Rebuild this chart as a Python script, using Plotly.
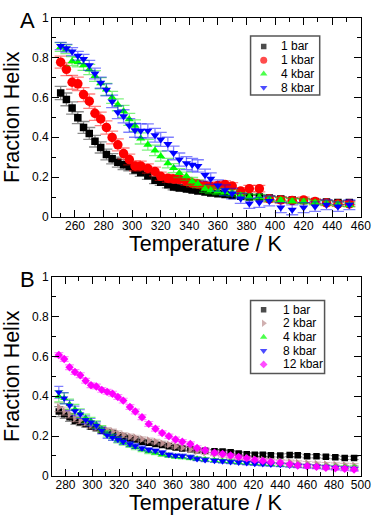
import plotly.graph_objects as go

# ---- data ----
# panel A
TEMP_A = [250, 254, 258, 262, 266, 270, 274, 278, 282, 286, 290, 294, 298, 302, 306, 311, 316, 320, 325, 329,
          333, 338, 342, 346, 351, 355, 360, 365, 370, 376, 382, 389, 396, 404, 412, 420, 428, 436, 444, 452]
A_1BAR = [0.622, 0.590, 0.547, 0.498, 0.449, 0.419, 0.380, 0.349, 0.313, 0.292, 0.275, 0.262, 0.253, 0.236, 0.223, 0.207, 0.184, 0.174, 0.161, 0.150,
          0.145, 0.140, 0.135, 0.130, 0.125, 0.120, 0.116, 0.112, 0.108, 0.104, 0.100, 0.100, 0.095, 0.090, 0.085, 0.082, 0.078, 0.075, 0.072, 0.072]
A_1KBAR = [0.777, 0.741, 0.676, 0.668, 0.614, 0.581, 0.520, 0.492, 0.449, 0.399, 0.362, 0.318, 0.288, 0.256, 0.256, 0.243, 0.228, 0.204, 0.194, 0.191,
           0.188, 0.178, 0.170, 0.165, 0.158, 0.153, 0.158, 0.163, 0.155, 0.130, 0.142, 0.142, 0.090, 0.085, 0.082, 0.085, 0.077, 0.070, 0.065, 0.065]
A_4KBAR = [0.853, 0.842, 0.782, 0.777, 0.761, 0.740, 0.707, 0.671, 0.640, 0.600, 0.563, 0.530, 0.490, 0.458, 0.394, 0.362, 0.334, 0.305, 0.270, 0.245,
           0.220, 0.204, 0.178, 0.166, 0.142, 0.134, 0.128, 0.125, 0.120, 0.108, 0.100, 0.100, 0.090, 0.085, 0.080, 0.078, 0.072, 0.070, 0.065, 0.060]
A_8KBAR = [0.858, 0.847, 0.830, 0.809, 0.793, 0.761, 0.720, 0.674, 0.638, 0.580, 0.525, 0.505, 0.459, 0.435, 0.432, 0.432, 0.410, 0.389, 0.366, 0.321,
           0.288, 0.270, 0.262, 0.256, 0.210, 0.192, 0.158, 0.134, 0.117, 0.093, 0.068, 0.073, 0.080, 0.047, 0.036, 0.047, 0.052, 0.061, 0.052, 0.061]
ERR_A_1BAR = [0.033, 0.032, 0.031, 0.030, 0.030, 0.030, 0.029, 0.028, 0.027, 0.026, 0.025, 0.024, 0.022, 0.020, 0.019, 0.018, 0.017, 0.016, 0.015, 0.014,
              0.013, 0.012, 0.012, 0.011, 0.011, 0.010, 0.010, 0.010, 0.010, 0.010, 0.010, 0.010, 0.010, 0.010, 0.010, 0.010, 0.010, 0.010, 0.010, 0.010]
ERR_A_1KBAR = [0.030, 0.032, 0.035, 0.034, 0.035, 0.036, 0.035, 0.034, 0.033, 0.032, 0.030, 0.028, 0.027, 0.025, 0.024, 0.023, 0.022, 0.021, 0.020, 0.020,
               0.020, 0.020, 0.019, 0.019, 0.018, 0.018, 0.018, 0.018, 0.017, 0.017, 0.016, 0.016, 0.015, 0.015, 0.014, 0.014, 0.013, 0.013, 0.012, 0.012]
ERR_A_4KBAR = [0.022, 0.022, 0.023, 0.024, 0.025, 0.026, 0.027, 0.028, 0.030, 0.030, 0.030, 0.030, 0.030, 0.029, 0.028, 0.027, 0.026, 0.025, 0.024, 0.023,
               0.022, 0.021, 0.020, 0.019, 0.018, 0.017, 0.016, 0.015, 0.015, 0.014, 0.014, 0.013, 0.013, 0.012, 0.012, 0.012, 0.011, 0.011, 0.011, 0.010]
ERR_A_8KBAR = [0.018, 0.019, 0.020, 0.022, 0.023, 0.025, 0.027, 0.028, 0.030, 0.031, 0.032, 0.033, 0.034, 0.035, 0.035, 0.035, 0.035, 0.035, 0.034, 0.034,
               0.033, 0.033, 0.032, 0.031, 0.030, 0.029, 0.028, 0.027, 0.026, 0.025, 0.025, 0.025, 0.025, 0.025, 0.025, 0.025, 0.024, 0.024, 0.024, 0.024]

# panel B
TEMP_B = [275, 279, 283, 287, 291, 295, 299, 303, 307, 311, 315, 319, 323, 328, 332, 337, 342, 347, 352, 357,
          362, 367, 373, 378, 384, 391, 397, 403, 409, 415, 421, 427, 433, 440, 447, 453, 460, 467, 474, 481, 488, 495]
B_1BAR = [0.323, 0.310, 0.294, 0.277, 0.269, 0.261, 0.248, 0.240, 0.228, 0.220, 0.215, 0.204, 0.196, 0.188, 0.183, 0.171, 0.166, 0.160, 0.155, 0.148,
          0.142, 0.137, 0.133, 0.129, 0.126, 0.124, 0.122, 0.119, 0.112, 0.108, 0.106, 0.106, 0.103, 0.102, 0.104, 0.103, 0.098, 0.098, 0.096, 0.093, 0.090, 0.090]
B_2KBAR = [0.345, 0.325, 0.310, 0.290, 0.280, 0.268, 0.255, 0.245, 0.235, 0.228, 0.222, 0.213, 0.205, 0.198, 0.192, 0.185, 0.178, 0.172, 0.164, 0.157,
           0.149, 0.141, 0.133, 0.125, 0.117, 0.110, 0.103, 0.097, 0.092, 0.088, 0.083, 0.080, 0.076, 0.073, 0.070, 0.066, 0.063, 0.060, 0.058, 0.056, 0.054, 0.052]
B_4KBAR = [0.400, 0.390, 0.360, 0.335, 0.315, 0.290, 0.275, 0.258, 0.235, 0.210, 0.195, 0.180, 0.167, 0.155, 0.143, 0.132, 0.123, 0.116, 0.108, 0.102,
           0.097, 0.094, 0.090, 0.086, 0.082, 0.078, 0.075, 0.072, 0.068, 0.065, 0.063, 0.061, 0.058, 0.056, 0.054, 0.052, 0.050, 0.048, 0.046, 0.045, 0.043, 0.042]
B_8KBAR = [0.420, 0.390, 0.353, 0.326, 0.310, 0.281, 0.269, 0.253, 0.228, 0.204, 0.193, 0.183, 0.171, 0.160, 0.150, 0.139, 0.131, 0.126, 0.117, 0.106,
           0.101, 0.100, 0.095, 0.085, 0.080, 0.076, 0.073, 0.070, 0.067, 0.064, 0.061, 0.059, 0.057, 0.055, 0.052, 0.050, 0.048, 0.046, 0.043, 0.040, 0.037, 0.035]
B_12KBAR = [0.607, 0.587, 0.546, 0.522, 0.506, 0.478, 0.455, 0.449, 0.432, 0.422, 0.413, 0.396, 0.378, 0.346, 0.323, 0.294, 0.261, 0.237, 0.215, 0.199,
            0.183, 0.171, 0.160, 0.140, 0.128, 0.116, 0.110, 0.102, 0.095, 0.088, 0.080, 0.075, 0.070, 0.066, 0.058, 0.052, 0.048, 0.045, 0.041, 0.038, 0.035, 0.032]
ERR_B_1BAR = [0.025, 0.022, 0.020, 0.018, 0.017, 0.016, 0.015, 0.014, 0.013, 0.012, 0.012, 0.011, 0.011, 0.010, 0.010, 0.010, 0.010, 0.009, 0.009, 0.009,
              0.009, 0.008, 0.008, 0.008, 0.008, 0.008, 0.008, 0.008, 0.008, 0.008, 0.008, 0.008, 0.008, 0.008, 0.008, 0.008, 0.008, 0.008, 0.008, 0.008, 0.008, 0.008]
ERR_B_2KBAR = [0.022, 0.020, 0.019, 0.018, 0.017, 0.016, 0.015, 0.015, 0.014, 0.014, 0.013, 0.013, 0.012, 0.012, 0.012, 0.011, 0.011, 0.011, 0.010, 0.010,
               0.010, 0.010, 0.010, 0.010, 0.009, 0.009, 0.009, 0.009, 0.009, 0.009, 0.009, 0.009, 0.009, 0.009, 0.009, 0.009, 0.009, 0.009, 0.009, 0.009, 0.009, 0.009]
ERR_B_4KBAR = [0.028, 0.027, 0.025, 0.024, 0.022, 0.020, 0.019, 0.018, 0.017, 0.016, 0.015, 0.014, 0.013, 0.012, 0.012, 0.011, 0.011, 0.010, 0.010, 0.010,
               0.009, 0.009, 0.009, 0.009, 0.009, 0.008, 0.008, 0.008, 0.008, 0.008, 0.008, 0.008, 0.008, 0.008, 0.008, 0.008, 0.008, 0.008, 0.008, 0.008, 0.008, 0.008]
ERR_B_8KBAR = [0.030, 0.028, 0.026, 0.024, 0.022, 0.020, 0.019, 0.018, 0.017, 0.016, 0.015, 0.014, 0.013, 0.012, 0.012, 0.011, 0.011, 0.010, 0.010, 0.010,
               0.009, 0.009, 0.009, 0.009, 0.009, 0.009, 0.009, 0.009, 0.009, 0.009, 0.009, 0.009, 0.009, 0.009, 0.009, 0.009, 0.009, 0.009, 0.009, 0.009, 0.009, 0.009]
ERR_B_12KBAR = [0.012, 0.012, 0.012, 0.012, 0.012, 0.012, 0.012, 0.012, 0.012, 0.012, 0.012, 0.012, 0.012, 0.012, 0.012, 0.012, 0.012, 0.012, 0.011, 0.011,
                0.011, 0.011, 0.011, 0.011, 0.011, 0.010, 0.010, 0.010, 0.010, 0.010, 0.010, 0.010, 0.010, 0.010, 0.010, 0.010, 0.010, 0.010, 0.010, 0.010, 0.010, 0.010]

NAMES_A = ['1 bar', '1 kbar', '4 kbar', '8 kbar']
NAMES_B = ['1 bar', '2 kbar', '4 kbar', '8 kbar', '12 kbar']

W, H = 382, 523
FONT = 'Liberation Sans, Arial, sans-serif'


def px(x):  # pixel -> paper x
    return x / W


def py(y):  # pixel -> paper y
    return 1 - y / H


# plot areas in pixels (left, right, top, bottom)
PLOT_L, PLOT_R = 53.5, 370.5
A_TOP, A_BOT = 11, 215.7
B_TOP, B_BOT = 277.3, 481.7

fig = go.Figure()

# ---- panel A ----
series_a = [
    (A_1BAR, ERR_A_1BAR, '#000000', 'rgba(0,0,0,0.45)', 'square', 7.5),
    (A_1KBAR, ERR_A_1KBAR, '#ff0000', 'rgba(255,0,0,0.5)', 'circle', 9.5),
    (A_4KBAR, ERR_A_4KBAR, '#00ff00', 'rgba(0,230,0,0.5)', 'triangle-up', 8),
    (A_8KBAR, ERR_A_8KBAR, '#0000ff', 'rgba(0,0,255,0.5)', 'triangle-down', 8),
]
for name, (vals, err, col, ecol, sym, sz) in zip(NAMES_A, series_a):
    fig.add_trace(go.Scatter(
        x=TEMP_A, y=vals, name=name, mode='markers', xaxis='x', yaxis='y',
        marker=dict(symbol=sym, size=sz, color=col, line=dict(width=0)),
        error_y=dict(type='data', array=err, color=ecol, thickness=1.3, width=6),
        showlegend=False,
    ))

# ---- panel B ----
series_b = [
    (B_1BAR, ERR_B_1BAR, '#000000', 'rgba(0,0,0,0.45)', 'square', 6.5),
    (B_2KBAR, ERR_B_2KBAR, '#bc8f8f', 'rgba(188,143,143,0.55)', 'triangle-right', 7),
    (B_4KBAR, ERR_B_4KBAR, '#00ff00', 'rgba(0,230,0,0.5)', 'triangle-up', 7),
    (B_8KBAR, ERR_B_8KBAR, '#0000ff', 'rgba(0,0,255,0.5)', 'triangle-down', 7),
    (B_12KBAR, ERR_B_12KBAR, '#ff00ff', 'rgba(255,0,255,0.45)', 'diamond', 6.5),
]
for name, (vals, err, col, ecol, sym, sz) in zip(NAMES_B, series_b):
    fig.add_trace(go.Scatter(
        x=TEMP_B, y=vals, name=name, mode='markers', xaxis='x2', yaxis='y2',
        marker=dict(symbol=sym, size=sz, color=col, line=dict(width=0)),
        error_y=dict(type='data', array=err, color=ecol, thickness=1.2, width=4.5),
        showlegend=False,
    ))

# ---- hand-made legends (row spacing is tighter than plotly's own legend) ----
fig.add_trace(go.Scatter(
    x=[0] * len(NAMES_A), y=list(range(len(NAMES_A))), mode='markers',
    xaxis='x3', yaxis='y3', showlegend=False, hoverinfo='skip',
    marker=dict(symbol=[s[4] for s in series_a], color=[s[2] for s in series_a],
                size=[5.5, 7, 6.5, 6.5], line=dict(width=0)),
))
fig.add_trace(go.Scatter(
    x=[0] * len(NAMES_B), y=list(range(len(NAMES_B))), mode='markers',
    xaxis='x4', yaxis='y4', showlegend=False, hoverinfo='skip',
    marker=dict(symbol=[s[4] for s in series_b], color=[s[2] for s in series_b],
                size=[5.5, 6.5, 6.5, 6.5, 6], line=dict(width=0)),
))

tick_font = dict(family=FONT, size=12, color='black')


def frame(domain, rng, dtick, minor, anchor, standoff=0):
    return dict(
        domain=domain, range=rng, anchor=anchor,
        showline=True, linecolor='black', linewidth=1, mirror='allticks',
        ticks='inside', ticklen=7, tickwidth=1, tickcolor='black',
        tick0=0, dtick=dtick, ticklabelstandoff=standoff,
        minor=dict(ticks='inside', ticklen=4, tickwidth=1, tickcolor='black', dtick=minor),
        showgrid=False, zeroline=False, tickfont=tick_font,
    )


def hidden(domain, rng, anchor):
    return dict(domain=domain, range=rng, anchor=anchor, visible=False,
                showgrid=False, zeroline=False, fixedrange=True)


x_dom = [px(PLOT_L), px(PLOT_R)]
annotations = []
title_font = dict(family=FONT, size=21.5, color='black')
for letter, top, bot in [('A', A_TOP, A_BOT), ('B', B_TOP, B_BOT)]:
    annotations.append(dict(text=letter, x=px(28.7), y=py(top + 3), xref='paper', yref='paper',
                            showarrow=False, font=dict(title_font, size=22),
                            xanchor='center', yanchor='middle'))
    annotations.append(dict(text='Temperature / K', x=px((PLOT_L + PLOT_R) / 2), y=py(bot + 27.5),
                            xref='paper', yref='paper', showarrow=False, font=title_font,
                            xanchor='center', yanchor='middle'))
    annotations.append(dict(text='Fraction Helix', x=px(13), y=py((top + bot) / 2),
                            xref='paper', yref='paper', showarrow=False, font=title_font,
                            textangle=-90, xanchor='center', yanchor='middle'))

leg_font = dict(family=FONT, size=12, color='black')
for i, name in enumerate(NAMES_A):
    annotations.append(dict(text=name, x=16, y=i, xref='x3', yref='y3', showarrow=False,
                            font=leg_font, xanchor='left', yanchor='middle'))
for i, name in enumerate(NAMES_B):
    annotations.append(dict(text=name, x=17.5, y=i, xref='x4', yref='y4', showarrow=False,
                            font=leg_font, xanchor='left', yanchor='middle'))

box = dict(type='rect', x0=0, x1=1, y0=0, y1=1, line=dict(color='#555555', width=1.5),
           fillcolor='rgba(0,0,0,0)')

fig.update_layout(
    width=W, height=H,
    margin=dict(l=0, r=0, t=0, b=0),
    paper_bgcolor='white', plot_bgcolor='rgba(0,0,0,0)',
    font=dict(family=FONT, color='black'),
    showlegend=False,
    xaxis=frame(x_dom, [244, 460], 20, 10, 'y', -2),
    yaxis=frame([py(A_BOT), py(A_TOP)], [0, 1], 0.2, 0.1, 'x'),
    xaxis2=frame(x_dom, [270, 500], 20, 10, 'y2', -2),
    yaxis2=frame([py(B_BOT), py(B_TOP)], [0, 1], 0.2, 0.1, 'x2'),
    xaxis3=hidden([px(257.3), px(328.3)], [-13.5, 57.5], 'y3'),
    yaxis3=hidden([py(90.5), py(29.8)], [3.545, -0.76], 'x3'),
    xaxis4=hidden([px(257.3), px(333.3)], [-13.4, 62.6], 'y4'),
    yaxis4=hidden([py(376.7), py(301.7)], [4.67, -0.66], 'x4'),
    shapes=[dict(box, xref='x3 domain', yref='y3 domain'),
            dict(box, xref='x4 domain', yref='y4 domain')],
    annotations=annotations,
)

# the page's default body margin would push the figure 8px off the window
fig.write_html('out.html', config={'displayModeBar': False},
               post_script="document.body.style.margin='0';")
